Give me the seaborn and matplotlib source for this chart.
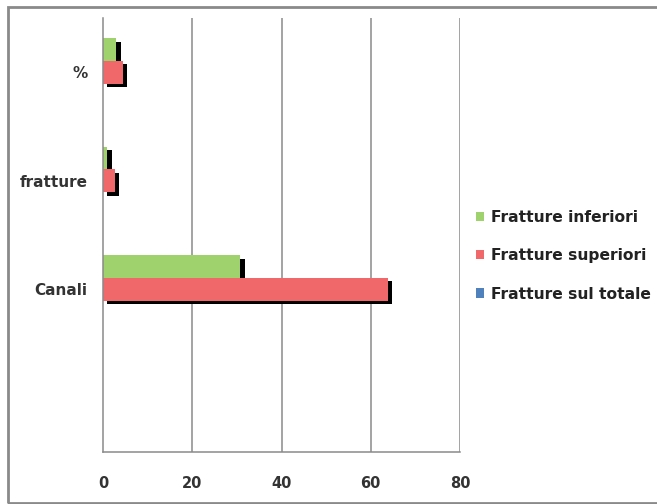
import matplotlib
matplotlib.use("Agg")
import matplotlib.pyplot as plt
import matplotlib.patheffects as pe
from matplotlib.patches import Rectangle
import numpy as np
import pandas as pd
import seaborn as sns

# Categories (top to bottom) and series values
categories = ["%", "fratture", "Canali", ""]
series_names = ["Fratture inferiori", "Fratture superiori", "Fratture sul totale"]
inferiori = [3.0, 1.0, 30.8]
superiori = [4.5, 2.6, 63.8]
sul_totale = [0.0, 0.0, 0.0]
x_ticks = [0, 20, 40, 60, 80]

colors = ["#9fd26c", "#f0686a", "#4f81bd"]

rows = []
for name, vals in zip(series_names, [inferiori, superiori, sul_totale]):
    for cat, v in zip(categories[:3], vals):
        rows.append({"categoria": cat, "valore": v, "serie": name})
df = pd.DataFrame(rows)

sns.set_theme(style="white")
plt.rcParams["font.family"] = ["DejaVu Sans"]

fig = plt.figure(figsize=(6.57, 5.04), dpi=100)
ax = fig.add_axes([103 / 657, 1 - 452 / 504, (460 - 103) / 657, (452 - 18) / 504])

sns.barplot(data=df, y="categoria", x="valore", hue="serie",
            order=categories, hue_order=series_names, palette=colors,
            orient="h", width=0.63, saturation=1, errorbar=None,
            linewidth=0, ax=ax)

# Drop shadow behind each bar
for p in ax.patches:
    if p.get_width() > 0:
        p.set_path_effects([pe.SimplePatchShadow(offset=(3, -2.5), shadow_rgbFace="black",
                                                 alpha=1.0, rho=0),
                            pe.Normal()])

ax.set_xlim(0, 80)
ax.set_ylim(3.5, -0.5)
ax.set_xticks(x_ticks)
ax.set_xticklabels([str(t) for t in x_ticks])
ax.set_xlabel("")
ax.set_ylabel("")

# Vertical gridlines
ax.grid(False)
for t in x_ticks[1:]:
    ax.axvline(t, color="#8a8a8a", lw=1.1, zorder=0)

for s in ["top", "right"]:
    ax.spines[s].set_visible(False)
for s in ["left", "bottom"]:
    ax.spines[s].set_color("#8a8a8a")
    ax.spines[s].set_linewidth(1.1)

ax.tick_params(axis="x", which="major", direction="out", length=5, width=1.1,
               color="#8a8a8a", pad=12, labelsize=10.5, labelcolor="#333333")
ax.tick_params(axis="y", which="major", length=0, pad=11, labelsize=11,
               labelcolor="#333333")
ax.set_yticks(np.arange(-0.5, 3.6, 1.0), minor=True)
ax.tick_params(axis="y", which="minor", direction="out", length=5, width=1.1,
               color="#8a8a8a")
for lab in ax.get_xticklabels() + ax.get_yticklabels():
    lab.set_fontweight("bold")

leg = ax.legend(loc="upper left", bbox_to_anchor=(1.005, 0.59), frameon=False,
                handlelength=0.55, handleheight=0.55, handletextpad=0.4,
                labelspacing=1.5, prop={"family": ["DejaVu Sans"],
                                        "weight": "bold", "size": 11.2})
for t in leg.get_texts():
    t.set_color("#222222")

# Outer frame of the chart area
fig.patches.append(Rectangle((8 / 657, 1 / 504), 1.2, 496 / 504, transform=fig.transFigure,
                             fill=False, edgecolor="#8a8a8a", lw=2.0, zorder=10))

fig.savefig("out.png", dpi=100)
